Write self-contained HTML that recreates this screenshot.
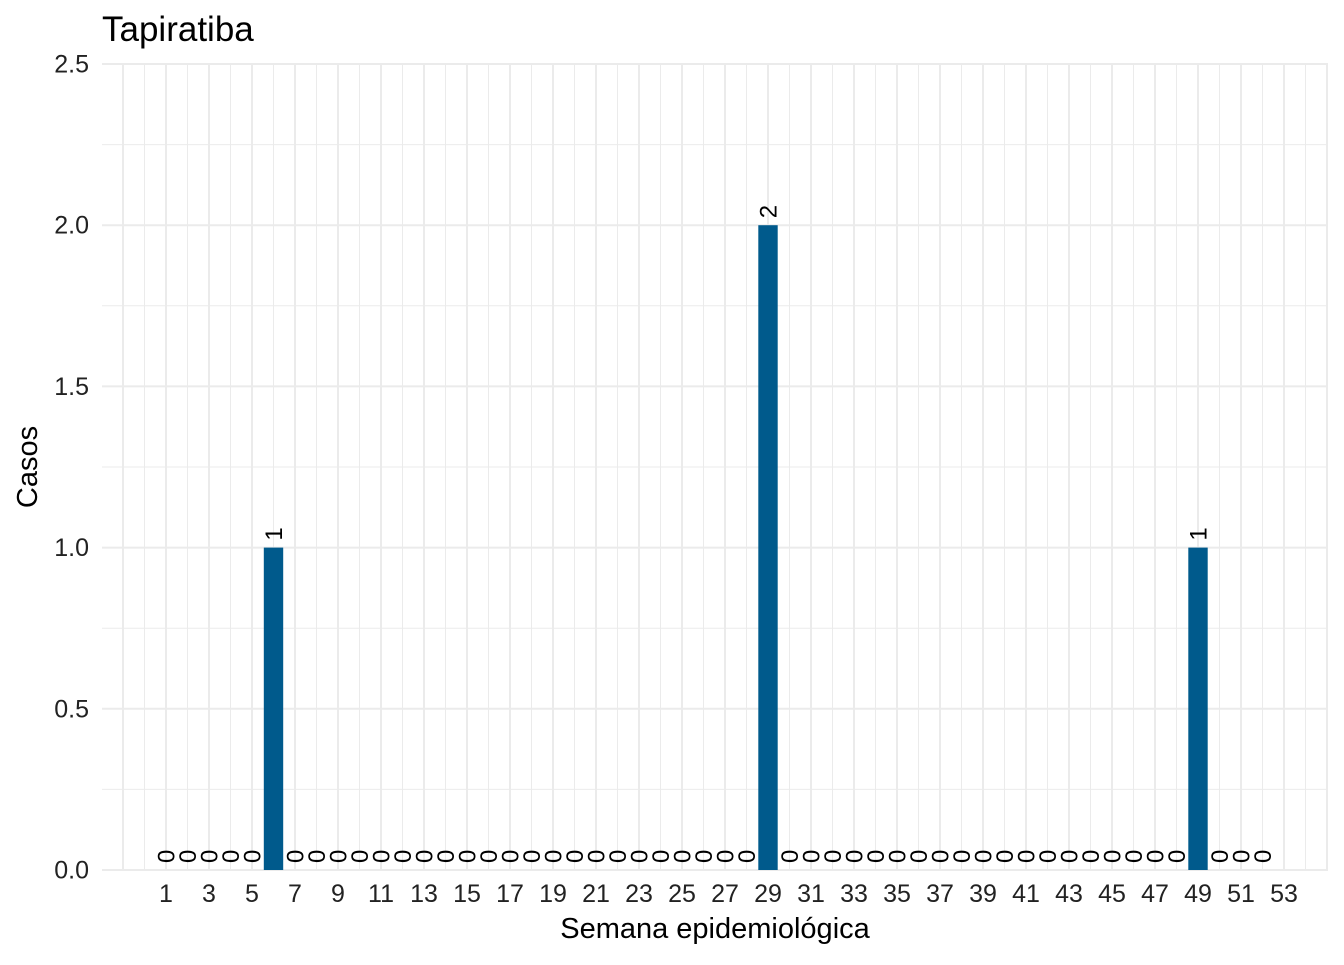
<!DOCTYPE html>
<html><head><meta charset="utf-8"><style>
body{margin:0;background:#fff;}
text{font-family:"Liberation Sans",sans-serif;}
</style></head><body>
<svg id="chart" width="1344" height="960" xmlns="http://www.w3.org/2000/svg">
<text x="102" y="41" font-size="35" fill="#000">Tapiratiba</text>
<g id="grid"></g><g id="bars"></g><g id="labels"></g><g id="axes"></g>
<text x="715" y="938" font-size="29" text-anchor="middle">Semana epidemiológica</text>
<text transform="translate(37,467) rotate(-90)" font-size="29" text-anchor="middle">Casos</text>
</svg>
<script>
const weeks = Array.from({length:52},(_,i)=>i+1);
const cases = [0,0,0,0,0,1,0,0,0,0,0,0,0,0,0,0,0,0,0,0,0,0,0,0,0,0,0,0,2,0,0,0,0,0,0,0,0,0,0,0,0,0,0,0,0,0,0,0,1,0,0,0];
const xTicks = [1,3,5,7,9,11,13,15,17,19,21,23,25,27,29,31,33,35,37,39,41,43,45,47,49,51,53];
const yTicks = [0,0.5,1,1.5,2,2.5];
const yTickLabels = ["0.0","0.5","1.0","1.5","2.0","2.5"];
const NS="http://www.w3.org/2000/svg";
const X0=102,X1=1328,Y0=870,Ytop=64;
const x=w=>166+(w-1)*21.5;
const y=v=>Y0-v*(Y0-Ytop)/2.5;
function mk(t,a,p){const e=document.createElementNS(NS,t);for(const k in a)e.setAttribute(k,a[k]);p.appendChild(e);return e;}
const grid=document.getElementById('grid'),bars=document.getElementById('bars'),labels=document.getElementById('labels'),axes=document.getElementById('axes');
for(let w=-1;w<=55;w++){const l=mk('line',{x1:x(w),x2:x(w),y1:Ytop,y2:Y0,stroke:'#ebebeb','stroke-width':(w%2?2:1)},grid);

}
for(let v=0;v<=2.5;v+=0.25){const l=mk('line',{x1:X0,x2:X1,y1:y(v),y2:y(v),stroke:'#ebebeb','stroke-width':(Math.abs(v*2-Math.round(v*2))<1e-9?2:1)},grid);

}
weeks.forEach((w,i)=>{const v=cases[i];
 if(v>0){const r=mk('rect',{x:x(w)-9.7,y:y(v),width:19.4,height:y(0)-y(v),fill:'#005a8c'},bars);
 
 }
 const t=mk('text',{transform:`translate(${x(w)+8.5},${y(v)-7}) rotate(-90)`,'font-size':'24'},labels);
 t.textContent=v;
 
 
});
xTicks.forEach(w=>{const t=mk('text',{x:x(w),y:902,'font-size':'25','text-anchor':'middle',fill:'#222'},axes);t.textContent=w;

});
yTicks.forEach((v,i)=>{const t=mk('text',{x:89,y:y(v)+8.5,'font-size':'25','text-anchor':'end',fill:'#222'},axes);t.textContent=yTickLabels[i];

});
</script>
</body></html>
